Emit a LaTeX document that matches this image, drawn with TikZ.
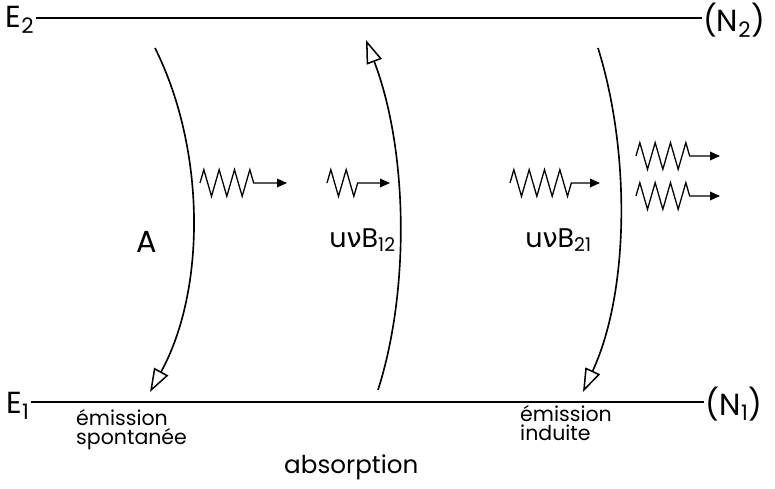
\documentclass[tikz,border=0pt]{standalone}
\usepackage{fontspec}
\setmainfont{Poppins}
\newfontfamily\greekfont{DejaVu Sans}
\usepackage{tikz}
\usetikzlibrary{arrows.meta, positioning, decorations.pathmorphing}

\begin{document}
\begin{tikzpicture}[
  x=0.03cm, y=-0.03cm,
  level/.style={line width=1.7pt},
  trans/.style={line width=1.4pt, -{Triangle[open, length=7mm, width=4.8mm, line width=1.3pt]}},
  photon/.style={line width=1.1pt, -{Triangle[length=3mm, width=2.6mm]},
    decoration={zigzag, segment length=4.6mm, amplitude=4mm, post length=8mm}, decorate},
  lab/.style={font=\fontsize{26}{28}\selectfont, inner sep=1pt},
  coef/.style={font=\fontsize{23}{26}\selectfont, inner sep=1pt},
  txt/.style={font=\fontsize{17.5}{16}\selectfont, align=left, inner sep=0pt}
]
\useasboundingbox (0,0) rectangle (775,489);
% energy levels
\node[lab] (e2) at (20,20) {E\textsubscript{2}};
\node[lab] (n2) at (734,20) {(N\textsubscript{2})};
\node[lab] (e1) at (18,406) {E\textsubscript{1}};
\node[lab] (n1) at (734,404) {(N\textsubscript{1})};
\draw[level] (e2.east |- 0,18) -- (n2.west |- 0,18);
\draw[level] (e1.east |- 0,402) -- (n1.west |- 0,402);
% transitions
\coordinate (a1) at (155,48);  \coordinate (a2) at (150,392);
\coordinate (b1) at (378,390); \coordinate (b2) at (366,40);
\coordinate (c1) at (598,48);  \coordinate (c2) at (583,392);
\draw[trans] (a1) .. controls (206,150) and (206,290) .. (a2);
\draw[trans] (b1) .. controls (410,290) and (408,150) .. (b2);
\draw[trans] (c1) .. controls (630,150) and (630,290) .. (c2);
% photons
\coordinate (p1) at (200,183); \coordinate (q1) at (287,183);
\coordinate (p2) at (327,183); \coordinate (q2) at (390,183);
\coordinate (p3) at (510,183); \coordinate (q3) at (600,183);
\coordinate (p4) at (636,156); \coordinate (q4) at (720,156);
\coordinate (p5) at (636,196); \coordinate (q5) at (720,196);
\draw[photon] (p1) -- (q1);
\draw[photon] (p2) -- (q2);
\draw[photon] (p3) -- (q3);
\draw[photon] (p4) -- (q4);
\draw[photon] (p5) -- (q5);
% coefficients
\node[lab] (ca) at (147,242) {A};
\node[coef, anchor=west] (cb) at (328,240) {u{\greekfont ν}B\textsubscript{12}};
\node[coef, anchor=west] (cc) at (524,240) {u{\greekfont ν}B\textsubscript{21}};
% names
\node[txt, anchor=north west] (spont) at (76,409) {émission\\spontanée};
\node[txt, anchor=north west, font=\fontsize{21}{22}\selectfont] (abs) at (284,455) {absorption};
\node[txt, anchor=north west] (ind) at (520,405) {émission\\induite};
\end{tikzpicture}
\end{document}
